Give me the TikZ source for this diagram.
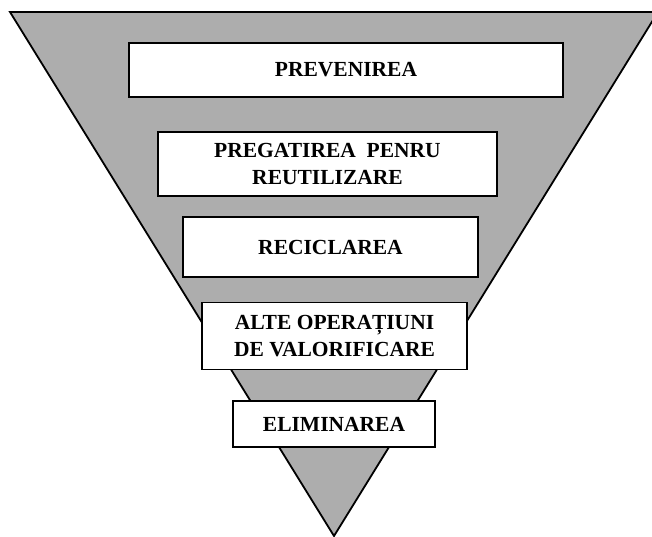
\documentclass[tikz,border=0pt]{standalone}
\usepackage{fontspec}
\setmainfont{Liberation Serif}
\definecolor{funnelgray}{RGB}{173,173,173}
\begin{document}
\begin{tikzpicture}[
    x=1pt, y=-1pt,
    level/.style={rectangle, draw=black, line width=1.8pt, fill=white, inner sep=0pt, align=center, font=\fontsize{21.5}{27}\selectfont\bfseries},
    funnel/.style={draw=black, line width=1.8pt, fill=funnelgray}
]
\useasboundingbox (0,0) rectangle (652,537);

% Inverted triangle
\coordinate (tl) at (10,12);
\coordinate (tr) at (658,12);
\coordinate (apex) at (334,536);
\draw[funnel] (tl) -- (tr) -- (apex) -- cycle;

% Hierarchy levels
\node[level, minimum width=434pt, minimum height=54pt] (prev) at (346,70) {PREVENIREA};
\node[level, minimum width=339pt, minimum height=64pt] (pregat) at (327.5,164) {PREGATIREA\ \ PENRU\\REUTILIZARE};
\node[level, minimum width=295pt, minimum height=60pt] (recicl) at (330.5,247) {RECICLAREA};
\node[level, minimum width=265pt, minimum height=67pt] (valor) at (334.5,336) {ALTE OPERAȚIUNI\\DE VALORIFICARE};
\node[level, minimum width=202pt, minimum height=46pt] (elim) at (334,424) {ELIMINAREA};

\end{tikzpicture}
\end{document}
